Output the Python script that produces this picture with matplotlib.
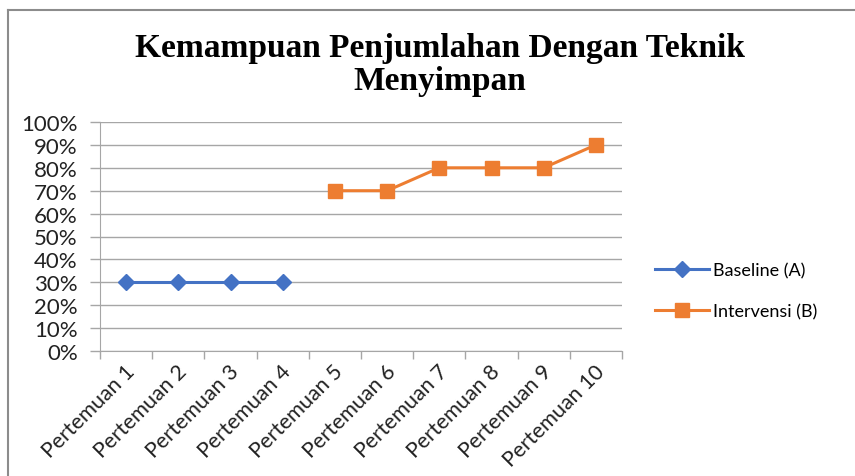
import numpy as np
import matplotlib
matplotlib.use("Agg")
import matplotlib.pyplot as plt
import matplotlib.transforms as mtransforms
from matplotlib.lines import Line2D

categories = ["Pertemuan 1", "Pertemuan 2", "Pertemuan 3", "Pertemuan 4", "Pertemuan 5",
              "Pertemuan 6", "Pertemuan 7", "Pertemuan 8", "Pertemuan 9", "Pertemuan 10"]
baseline = [0.30, 0.30, 0.30, 0.30, np.nan, np.nan, np.nan, np.nan, np.nan, np.nan]
intervensi = [np.nan, np.nan, np.nan, np.nan, 0.70, 0.70, 0.80, 0.80, 0.80, 0.90]
yticks = [0, 0.1, 0.2, 0.3, 0.4, 0.5, 0.6, 0.7, 0.8, 0.9, 1.0]
ytick_labels = ["0%", "10%", "20%", "30%", "40%", "50%", "60%", "70%", "80%", "90%", "100%"]
title = "Kemampuan Penjumlahan Dengan Teknik\nMenyimpan"

plt.rcParams["font.family"] = ["Lato", "DejaVu Sans"]

W, H = 855, 477
fig = plt.figure(figsize=(W / 100, H / 100), dpi=100)
ax = fig.add_axes([100 / W, 1 - 352 / H, (622 - 100) / W, (352 - 123) / H])

x = np.arange(len(categories))
ax.plot(x, baseline, color="#4472C4", lw=2.2, marker="D", markersize=8, label="Baseline (A)")
ax.plot(x, intervensi, color="#ED7D31", lw=2.2, marker="s", markersize=9.5, label="Intervensi (B)")

ax.set_xlim(-0.5, len(categories) - 0.5)
ax.set_ylim(0, 1.0)
ax.set_yticks(yticks)
ax.set_yticklabels(ytick_labels, fontsize=16, color="#222222")
ax.yaxis.grid(True, color="#A6A6A6", lw=1)
ax.set_axisbelow(True)

ax.set_xticks(x)
ax.set_xticklabels(categories, rotation=45, ha="right", rotation_mode="anchor",
                   fontsize=15.5, color="#222222")
ax.tick_params(axis="x", which="major", length=0, pad=7)
ax.set_xticks(np.arange(-0.5, len(categories)), minor=True)
ax.tick_params(axis="x", which="minor", length=6, color="#A6A6A6", width=1)
ax.tick_params(axis="y", length=7, color="#A6A6A6", width=1, pad=9)
offset = mtransforms.ScaledTranslation(-2 / 100, 0, fig.dpi_scale_trans)
for lab in ax.get_xticklabels():
    lab.set_transform(lab.get_transform() + offset)

for s in ["top", "right"]:
    ax.spines[s].set_visible(False)
ax.spines["left"].set_color("#A6A6A6")
ax.spines["bottom"].set_color("#A6A6A6")

fig.text(440 / W, 1 - 65 / H, title, ha="center", va="center", fontsize=24,
         fontweight="bold", family="Liberation Serif", linespacing=1.12)

leg = fig.legend(loc="center left", bbox_to_anchor=(655 / W, 1 - 292 / H), frameon=False,
                 fontsize=13, handlelength=3.0, labelspacing=1.35, handletextpad=0.2,
                 borderpad=0, borderaxespad=0)

fig.add_artist(Line2D([8 / W, 1], [1 - 11 / H, 1 - 11 / H], color="#8C8C8C", lw=1.5))
fig.add_artist(Line2D([8 / W, 8 / W], [0, 1 - 11 / H], color="#8C8C8C", lw=1.5))

fig.savefig("out.png", dpi=100, facecolor="white")
